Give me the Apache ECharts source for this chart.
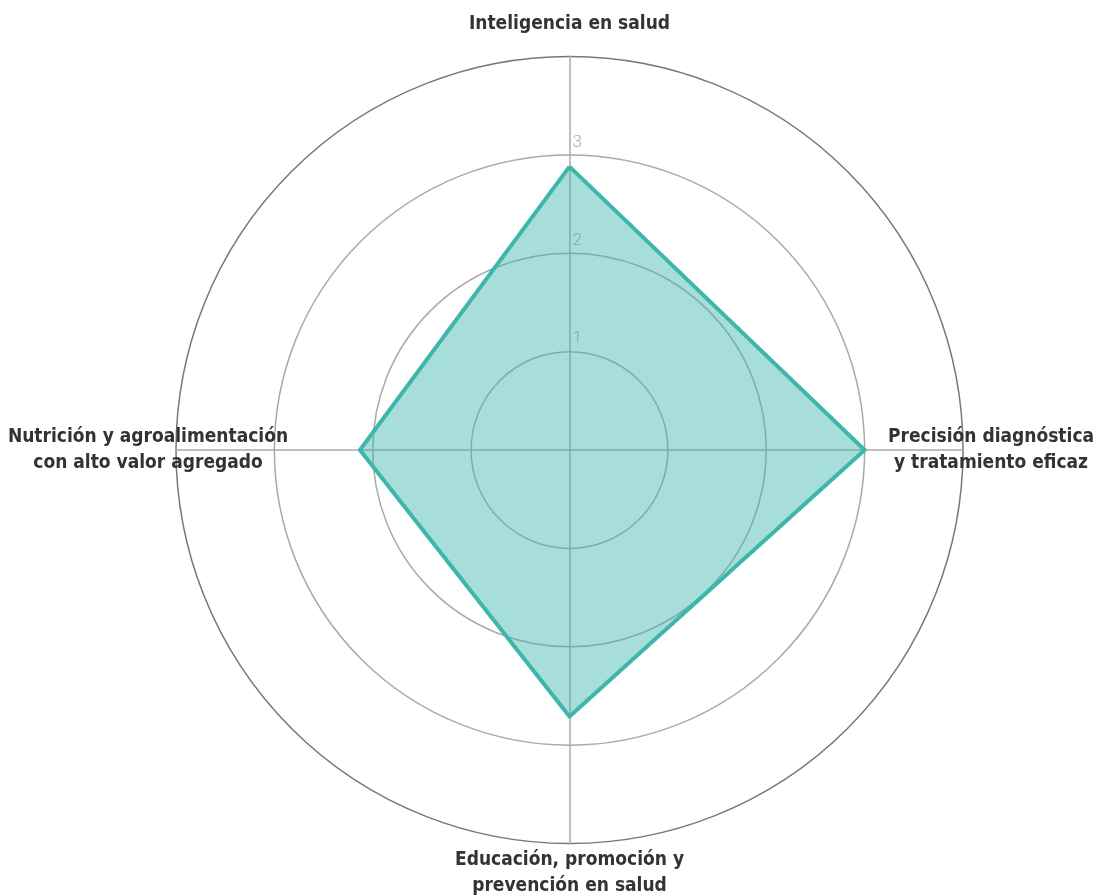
<!DOCTYPE html>
<html>
<head>
<meta charset="utf-8">
<script src="https://cdn.jsdelivr.net/npm/echarts@6/dist/echarts.min.js"></script>
<style>
  html, body { margin: 0; padding: 0; background: #fff; }
  #chart { width: 1095px; height: 896px; }
</style>
</head>
<body>
<div id="chart"></div>
<script>
// radar axes, counter-clockwise from the top
var categories = [
  'Inteligencia en salud',
  'Nutrición y agroalimentación\ncon alto valor agregado',
  'Educación, promoción y\nprevención en salud',
  'Precisión diagnóstica\ny tratamiento eficaz'
];
var scores = [2.88, 2.13, 2.71, 3.0];
var scaleMax = 4;
var nameGaps = [32, 28, 30, 28];

var font = '"DejaVu Sans Condensed", sans-serif';

var indicators = categories.map(function (name, i) {
  var ind = { name: name, max: scaleMax, min: 0, nameGap: nameGaps[i] };
  if (i === 0) {
    // tick numbers only along the top axis
    ind.axisLabel = {
      show: true,
      color: '#aaa',
      fontSize: 17,
      fontFamily: 'Roboto, sans-serif',
      fontWeight: 300,
      align: 'left',
      verticalAlign: 'bottom',
      margin: -3,
      padding: [0, 0, 4, 0],
      formatter: function (v) { return (v > 0 && v < scaleMax) ? v : ''; }
    };
  }
  return ind;
});

var chart = echarts.init(document.getElementById('chart'));
chart.setOption({
  backgroundColor: '#fff',
  animation: false,
  radar: {
    center: [569.5, 450],
    radius: 393.5,
    shape: 'circle',
    splitNumber: 4,
    indicator: indicators,
    axisName: {
      color: '#333',
      fontSize: 19,
      fontWeight: 'bold',
      fontFamily: font,
      align: 'center',
      verticalAlign: 'middle',
      lineHeight: 26
    },
    axisLine: { lineStyle: { color: '#aaa', width: 1.5 } },
    splitLine: {
      lineStyle: { color: ['#aaa', '#aaa', '#aaa', '#aaa', '#777'], width: 1.5 }
    },
    splitArea: { show: false },
    axisTick: { show: false }
  },
  series: [{
    type: 'radar',
    symbol: 'none',
    lineStyle: { color: '#3fb6ab', width: 4 },
    areaStyle: { color: '#3fb6ab', opacity: 0.45 },
    data: [{ value: scores }]
  }]
});
</script>
</body>
</html>
